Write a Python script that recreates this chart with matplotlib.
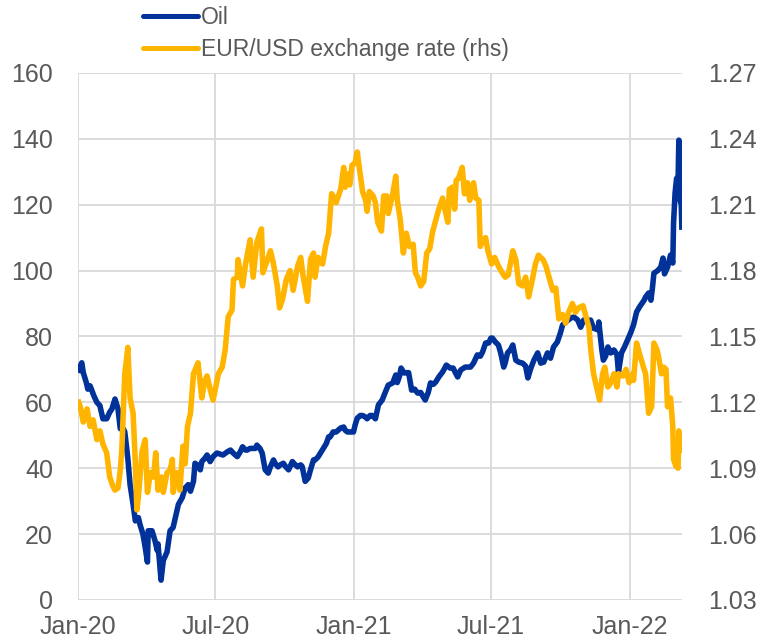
import numpy as np
import pandas as pd
import matplotlib
matplotlib.use("Agg")
import matplotlib.pyplot as plt
import matplotlib.dates as mdates
from matplotlib.ticker import FuncFormatter

plt.rcParams['font.family'] = ['Liberation Sans', 'DejaVu Sans']

# Oil price (lhs)
oil_dates = [
    "2020-01-02", "2020-01-04", "2020-01-06", "2020-01-08", "2020-01-12", "2020-01-14",
    "2020-01-17", "2020-01-22", "2020-01-26", "2020-01-30", "2020-02-03", "2020-02-08",
    "2020-02-12", "2020-02-15", "2020-02-19", "2020-02-23", "2020-02-26", "2020-03-01",
    "2020-03-03", "2020-03-07", "2020-03-10", "2020-03-14", "2020-03-17", "2020-03-21",
    "2020-03-23", "2020-03-27", "2020-03-30", "2020-04-02", "2020-04-03", "2020-04-08",
    "2020-04-12", "2020-04-15", "2020-04-16", "2020-04-20", "2020-04-23", "2020-04-25",
    "2020-04-28", "2020-05-02", "2020-05-06", "2020-05-10", "2020-05-13", "2020-05-18",
    "2020-05-22", "2020-05-26", "2020-05-29", "2020-06-02", "2020-06-04", "2020-06-07",
    "2020-06-11", "2020-06-13", "2020-06-17", "2020-06-20", "2020-06-24", "2020-06-28",
    "2020-07-03", "2020-07-07", "2020-07-11", "2020-07-17", "2020-07-21", "2020-07-25",
    "2020-07-30", "2020-08-03", "2020-08-06", "2020-08-10", "2020-08-12", "2020-08-16",
    "2020-08-19", "2020-08-23", "2020-08-25", "2020-08-29", "2020-09-01", "2020-09-05",
    "2020-09-09", "2020-09-12", "2020-09-16", "2020-09-18", "2020-09-22", "2020-09-25",
    "2020-09-29", "2020-10-02", "2020-10-06", "2020-10-08", "2020-10-11", "2020-10-15",
    "2020-10-18", "2020-10-22", "2020-10-24", "2020-10-28", "2020-11-01", "2020-11-04",
    "2020-11-08", "2020-11-10", "2020-11-14", "2020-11-17", "2020-11-21", "2020-11-25",
    "2020-11-28", "2020-11-30", "2020-12-04", "2020-12-08", "2020-12-11", "2020-12-14",
    "2020-12-18", "2020-12-20", "2020-12-23", "2020-12-27", "2020-12-31", "2021-01-02",
    "2021-01-05", "2021-01-09", "2021-01-12", "2021-01-16", "2021-01-18", "2021-01-22",
    "2021-01-25", "2021-01-29", "2021-02-02", "2021-02-07", "2021-02-11", "2021-02-15",
    "2021-02-21", "2021-02-25", "2021-02-27", "2021-03-02", "2021-03-04", "2021-03-08",
    "2021-03-11", "2021-03-14", "2021-03-18", "2021-03-22", "2021-03-26", "2021-03-30",
    "2021-04-01", "2021-04-05", "2021-04-09", "2021-04-12", "2021-04-16", "2021-04-19",
    "2021-04-23", "2021-04-28", "2021-05-03", "2021-05-08", "2021-05-12", "2021-05-15",
    "2021-05-18", "2021-05-22", "2021-05-28", "2021-06-04", "2021-06-08", "2021-06-13",
    "2021-06-17", "2021-06-20", "2021-06-24", "2021-06-28", "2021-07-01", "2021-07-03",
    "2021-07-07", "2021-07-11", "2021-07-14", "2021-07-18", "2021-07-20", "2021-07-23",
    "2021-07-27", "2021-07-30", "2021-08-03", "2021-08-07", "2021-08-12", "2021-08-16",
    "2021-08-19", "2021-08-23", "2021-08-27", "2021-09-01", "2021-09-05", "2021-09-09",
    "2021-09-14", "2021-09-18", "2021-09-22", "2021-09-27", "2021-10-01", "2021-10-04",
    "2021-10-08", "2021-10-15", "2021-10-19", "2021-10-24", "2021-10-28", "2021-11-01",
    "2021-11-06", "2021-11-10", "2021-11-14", "2021-11-20", "2021-11-21", "2021-11-25",
    "2021-11-27", "2021-11-30", "2021-12-03", "2021-12-07", "2021-12-11", "2021-12-15",
    "2021-12-17", "2021-12-21", "2021-12-25", "2021-12-29", "2022-01-02", "2022-01-06",
    "2022-01-10", "2022-01-14", "2022-01-20", "2022-01-22", "2022-01-26", "2022-01-29",
    "2022-01-31", "2022-02-02", "2022-02-07", "2022-02-11", "2022-02-14", "2022-02-16",
    "2022-02-20", "2022-02-24", "2022-02-27", "2022-02-28", "2022-03-02", "2022-03-04",
    "2022-03-06", "2022-03-07", "2022-03-08", "2022-03-09", "2022-03-10", "2022-03-11",
]
oil_values = [
    69.8, 71.0, 72.0, 69.0, 66.0, 64.0,
    65.0, 62.0, 60.0, 59.0, 55.0, 55.0,
    57.0, 58.0, 61.0, 58.0, 52.0, 52.0,
    51.0, 43.0, 35.0, 29.0, 24.0, 25.0,
    23.0, 20.0, 16.0, 11.5, 21.0, 21.0,
    18.0, 15.0, 17.0, 6.0, 12.0, 13.0,
    14.6, 21.0, 22.0, 26.0, 29.0, 31.0,
    34.0, 35.0, 33.0, 36.0, 41.5, 41.0,
    39.5, 42.0, 43.0, 44.0, 42.0, 43.5,
    44.6, 44.3, 44.0, 45.0, 45.5, 44.5,
    43.5, 45.0, 46.5, 45.5, 45.5, 46.0,
    46.0, 46.0, 47.0, 46.0, 44.6, 39.5,
    38.5, 40.5, 42.5, 41.5, 40.4, 41.0,
    41.5, 40.5, 39.5, 40.5, 42.0, 41.0,
    40.4, 41.0, 40.5, 36.0, 37.0, 39.5,
    42.5, 42.5, 43.4, 44.5, 46.0, 47.5,
    49.5, 49.5, 51.0, 51.0, 51.6, 52.2,
    52.5, 51.5, 51.0, 51.0, 51.0, 53.0,
    55.2, 56.0, 56.0, 55.5, 55.0, 56.0,
    56.0, 55.0, 59.2, 60.7, 63.0, 65.2,
    65.9, 68.3, 66.0, 68.0, 70.4, 68.9,
    69.0, 69.0, 63.7, 64.0, 62.8, 63.0,
    62.2, 60.7, 63.0, 65.9, 65.5, 66.2,
    67.7, 69.2, 71.3, 70.4, 70.4, 69.0,
    67.7, 69.8, 70.7, 70.7, 71.9, 74.4,
    74.0, 75.3, 78.0, 78.0, 79.5, 79.5,
    78.3, 77.4, 75.0, 70.7, 72.0, 75.0,
    76.0, 77.4, 72.8, 72.2, 71.9, 71.0,
    67.4, 70.4, 72.8, 75.0, 71.9, 72.2,
    75.0, 73.4, 76.8, 78.3, 81.0, 83.5,
    84.4, 85.6, 85.9, 85.0, 82.8, 85.0,
    84.5, 85.0, 82.5, 82.0, 84.4, 75.9,
    72.8, 74.0, 76.8, 75.0, 75.9, 74.5,
    69.2, 75.0, 76.8, 78.9, 81.0, 83.5,
    87.4, 89.0, 91.0, 92.0, 93.2, 91.0,
    94.7, 99.2, 100.0, 101.0, 103.8, 99.0,
    101.0, 104.7, 102.3, 114.4, 123.5, 128.0,
    127.5, 139.6, 122.3, 121.0, 121.4, 113.2,
]

# EUR/USD exchange rate (rhs)
fx_dates = [
    "2020-01-02", "2020-01-04", "2020-01-08", "2020-01-13", "2020-01-17", "2020-01-21",
    "2020-01-26", "2020-01-30", "2020-02-03", "2020-02-08", "2020-02-12", "2020-02-16",
    "2020-02-19", "2020-02-23", "2020-02-26", "2020-02-28", "2020-03-03", "2020-03-07",
    "2020-03-10", "2020-03-14", "2020-03-17", "2020-03-19", "2020-03-21", "2020-03-26",
    "2020-03-30", "2020-04-02", "2020-04-06", "2020-04-10", "2020-04-13", "2020-04-16",
    "2020-04-21", "2020-04-23", "2020-04-28", "2020-05-02", "2020-05-05", "2020-05-06",
    "2020-05-11", "2020-05-15", "2020-05-19", "2020-05-22", "2020-05-25", "2020-05-29",
    "2020-06-02", "2020-06-08", "2020-06-13", "2020-06-17", "2020-06-20", "2020-06-24",
    "2020-06-28", "2020-07-05", "2020-07-10", "2020-07-14", "2020-07-18", "2020-07-23",
    "2020-07-25", "2020-07-30", "2020-07-31", "2020-08-06", "2020-08-10", "2020-08-16",
    "2020-08-20", "2020-08-25", "2020-08-31", "2020-09-02", "2020-09-08", "2020-09-12",
    "2020-09-16", "2020-09-21", "2020-09-24", "2020-09-28", "2020-10-03", "2020-10-08",
    "2020-10-12", "2020-10-18", "2020-10-22", "2020-10-25", "2020-10-31", "2020-11-04",
    "2020-11-08", "2020-11-10", "2020-11-14", "2020-11-20", "2020-11-24", "2020-11-28",
    "2020-12-02", "2020-12-04", "2020-12-08", "2020-12-14", "2020-12-18", "2020-12-20",
    "2020-12-23", "2020-12-26", "2020-12-29", "2021-01-02", "2021-01-05", "2021-01-08",
    "2021-01-12", "2021-01-16", "2021-01-18", "2021-01-21", "2021-01-26", "2021-01-29",
    "2021-02-01", "2021-02-06", "2021-02-09", "2021-02-13", "2021-02-15", "2021-02-21",
    "2021-02-25", "2021-02-27", "2021-03-03", "2021-03-07", "2021-03-11", "2021-03-15",
    "2021-03-20", "2021-03-23", "2021-03-26", "2021-03-30", "2021-04-03", "2021-04-07",
    "2021-04-11", "2021-04-15", "2021-04-19", "2021-04-23", "2021-04-28", "2021-05-01",
    "2021-05-05", "2021-05-07", "2021-05-11", "2021-05-14", "2021-05-16", "2021-05-19",
    "2021-05-24", "2021-05-27", "2021-05-31", "2021-06-03", "2021-06-08", "2021-06-11",
    "2021-06-15", "2021-06-17", "2021-06-21", "2021-06-24", "2021-06-27", "2021-07-02",
    "2021-07-06", "2021-07-11", "2021-07-16", "2021-07-20", "2021-07-24", "2021-07-30",
    "2021-08-03", "2021-08-07", "2021-08-12", "2021-08-16", "2021-08-20", "2021-08-25",
    "2021-08-29", "2021-09-02", "2021-09-08", "2021-09-12", "2021-09-16", "2021-09-21",
    "2021-09-25", "2021-09-29", "2021-10-04", "2021-10-08", "2021-10-12", "2021-10-17",
    "2021-10-21", "2021-10-25", "2021-10-31", "2021-11-04", "2021-11-08", "2021-11-10",
    "2021-11-14", "2021-11-18", "2021-11-22", "2021-11-26", "2021-11-29", "2021-12-03",
    "2021-12-07", "2021-12-11", "2021-12-15", "2021-12-17", "2021-12-23", "2021-12-27",
    "2021-12-31", "2022-01-05", "2022-01-06", "2022-01-10", "2022-01-14", "2022-01-20",
    "2022-01-22", "2022-01-26", "2022-01-30", "2022-02-02", "2022-02-06", "2022-02-08",
    "2022-02-12", "2022-02-15", "2022-02-18", "2022-02-20", "2022-02-24", "2022-02-27",
    "2022-02-28", "2022-03-03", "2022-03-06", "2022-03-07", "2022-03-09", "2022-03-11",
]
fx_values = [
    1.120, 1.118, 1.111, 1.117, 1.109, 1.112,
    1.103, 1.107, 1.101, 1.097, 1.086, 1.082,
    1.080, 1.081, 1.089, 1.098, 1.133, 1.145,
    1.122, 1.115, 1.092, 1.071, 1.077, 1.098,
    1.103, 1.079, 1.088, 1.086, 1.097, 1.080,
    1.086, 1.079, 1.088, 1.089, 1.094, 1.079,
    1.088, 1.080, 1.100, 1.092, 1.109, 1.115,
    1.133, 1.138, 1.122, 1.130, 1.132, 1.126,
    1.121, 1.133, 1.136, 1.144, 1.159, 1.162,
    1.176, 1.177, 1.185, 1.173, 1.183, 1.194,
    1.177, 1.193, 1.199, 1.179, 1.185, 1.189,
    1.183, 1.173, 1.163, 1.167, 1.176, 1.180,
    1.171, 1.182, 1.186, 1.178, 1.166, 1.185,
    1.188, 1.177, 1.186, 1.183, 1.191, 1.197,
    1.215, 1.214, 1.211, 1.217, 1.227, 1.218,
    1.224, 1.219, 1.228, 1.229, 1.234, 1.226,
    1.216, 1.212, 1.207, 1.216, 1.214, 1.211,
    1.202, 1.198, 1.214, 1.214, 1.206, 1.215,
    1.223, 1.212, 1.203, 1.188, 1.197, 1.191,
    1.192, 1.179, 1.177, 1.173, 1.175, 1.188,
    1.190, 1.198, 1.203, 1.208, 1.213, 1.208,
    1.202, 1.217, 1.218, 1.208, 1.221, 1.222,
    1.227, 1.215, 1.220, 1.212, 1.220, 1.213,
    1.212, 1.191, 1.194, 1.195, 1.189, 1.183,
    1.186, 1.182, 1.179, 1.177, 1.178, 1.189,
    1.185, 1.174, 1.173, 1.177, 1.168, 1.176,
    1.183, 1.187, 1.185, 1.182, 1.177, 1.171,
    1.172, 1.158, 1.160, 1.156, 1.161, 1.165,
    1.161, 1.163, 1.164, 1.159, 1.154, 1.145,
    1.133, 1.127, 1.121, 1.133, 1.136, 1.127,
    1.129, 1.133, 1.127, 1.133, 1.132, 1.135,
    1.129, 1.133, 1.130, 1.147, 1.142, 1.135,
    1.133, 1.115, 1.118, 1.147, 1.144, 1.141,
    1.133, 1.136, 1.135, 1.118, 1.122, 1.109,
    1.094, 1.091, 1.090, 1.107, 1.098, 1.100,
]

oil = pd.Series(oil_values, index=pd.to_datetime(oil_dates))
fx = pd.Series(fx_values, index=pd.to_datetime(fx_dates))

blue = "#003299"
yellow = "#FFB400"
grey = "#595959"
gridc = "#D9D9D9"

fig = plt.figure(figsize=(7.61, 6.43), dpi=100)
ax = fig.add_axes([0.1025, 0.067, 0.7935, 0.8195])
ax2 = ax.twinx()

# Excel-style order: second series (fx) drawn above oil
l1, = ax.plot(oil.index, oil.values, color=blue, lw=4.0, solid_joinstyle="round",
              label="Oil")
l2, = ax2.plot(fx.index, fx.values, color=yellow, lw=4.0, solid_joinstyle="round",
               label="EUR/USD exchange rate (rhs)")

ax.set_ylim(0, 160)
ax.set_yticks(np.arange(0, 161, 20))
ax2.set_ylim(1.03, 1.27)
ax2.set_yticks(np.arange(1.03, 1.2701, 0.03))
ax2.yaxis.set_major_formatter(FuncFormatter(lambda v, p: f"{v:.2f}"))

ax.set_xlim(pd.Timestamp("2020-01-01"), pd.Timestamp("2022-03-11"))
ax.xaxis.set_major_locator(mdates.MonthLocator(bymonth=[1, 7]))
ax.xaxis.set_major_formatter(mdates.DateFormatter("%b-%y"))

ax.grid(True, color=gridc, lw=1.3)
ax2.grid(False)
for a in (ax, ax2):
    for s in a.spines.values():
        s.set_visible(False)
    a.tick_params(length=0, labelsize=18, colors=grey)
ax.tick_params(axis="y", pad=18)
ax2.tick_params(axis="y", pad=19)
ax.tick_params(axis="x", pad=11)

leg = fig.legend(handles=[l1, l2], loc="upper left", bbox_to_anchor=(0.1735, 1.008),
                 frameon=False, fontsize=16.5, labelcolor=grey, handlelength=2.4,
                 handletextpad=0.1, labelspacing=0.4, borderpad=0)
for h in leg.legend_handles:
    h.set_linewidth(3.6)
    h.set_solid_capstyle("round")

fig.savefig("out.png", dpi=100)
